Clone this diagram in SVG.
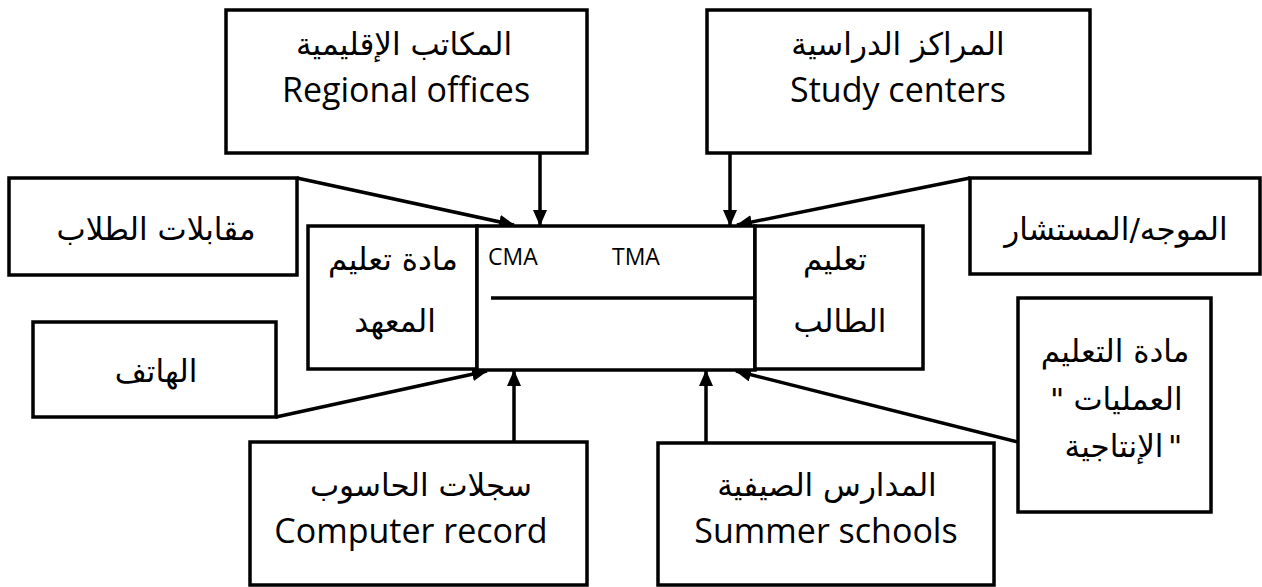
<svg xmlns="http://www.w3.org/2000/svg" width="1262" height="587" viewBox="0 0 1262 587">
<style>
.box{fill:#fff;stroke:#000;stroke-width:3.5}
.ar{font-family:"DejaVu Sans",sans-serif;font-size:31px;fill:#000;text-anchor:middle}
.q{font-family:"DejaVu Sans",sans-serif;font-size:31px;fill:#000;text-anchor:start}
.en{font-family:"Open Sans","Liberation Sans",sans-serif;font-size:34px;fill:#000;text-anchor:middle}
.sm{font-family:"Open Sans","Liberation Sans",sans-serif;font-size:23px;fill:#000}
.con{stroke:#000;stroke-width:3.5;fill:none;marker-end:url(#arr)}
</style>
<defs>
<marker id="arr" markerUnits="userSpaceOnUse" markerWidth="16" markerHeight="14" refX="15" refY="7" orient="auto">
<path d="M0,0 L16,7 L0,14 z" fill="#000"/>
</marker>
</defs>
<rect width="1262" height="587" fill="#fff"/>
<g id="connectors">
<line class="con" x1="297" y1="178" x2="514" y2="225"/>
<line class="con" x1="540" y1="153" x2="540" y2="225"/>
<line class="con" x1="730" y1="153" x2="730" y2="225"/>
<line class="con" x1="970" y1="178" x2="737" y2="225"/>
<line class="con" x1="276" y1="417" x2="487" y2="371"/>
<line class="con" x1="514" y1="442" x2="514" y2="371"/>
<line class="con" x1="706" y1="442" x2="706" y2="371"/>
<line class="con" x1="1018" y1="442" x2="736" y2="371"/>
</g>
<g id="regional">
<rect class="box" x="226" y="10" width="361" height="143"/>
<text class="ar" x="404" y="55">المكاتب الإقليمية</text>
<text class="en" x="406" y="102">Regional offices</text>
</g>
<g id="study">
<rect class="box" x="707" y="10" width="383" height="143"/>
<text class="ar" x="898" y="55">المراكز الدراسية</text>
<text class="en" x="898" y="102">Study centers</text>
</g>
<g id="interviews">
<rect class="box" x="9" y="178" width="288" height="97"/>
<text class="ar" x="156" y="240">مقابلات الطلاب</text>
</g>
<g id="institute-material">
<rect class="box" x="308" y="226" width="169" height="143"/>
<text class="ar" x="393" y="270">مادة تعليم</text>
<text class="ar" x="395" y="332">المعهد</text>
</g>
<g id="center">
<rect class="box" x="477" y="226" width="278" height="144"/>
<line x1="491" y1="298" x2="755" y2="298" stroke="#000" stroke-width="3.5"/>
<text class="sm" x="488" y="265">CMA</text>
<text class="sm" x="612" y="265">TMA</text>
</g>
<g id="student-teaching">
<rect class="box" x="755" y="226" width="168" height="143"/>
<text class="ar" x="835" y="270">تعليم</text>
<text class="ar" x="840" y="332">الطالب</text>
</g>
<g id="tutor">
<rect class="box" x="970" y="178" width="290" height="96"/>
<text class="ar" x="1116" y="240">الموجه/المستشار</text>
</g>
<g id="phone">
<rect class="box" x="33" y="322" width="243" height="95"/>
<text class="ar" x="156" y="382">الهاتف</text>
</g>
<g id="production-material">
<rect class="box" x="1018" y="298" width="193" height="214"/>
<text class="ar" x="1115" y="362">مادة التعليم</text>
<text class="q" x="1050" y="410">"</text>
<text class="ar" x="1128" y="410">العمليات</text>
<text class="ar" x="1114" y="457">الإنتاجية</text>
<text class="q" x="1168" y="457">"</text>
</g>
<g id="computer">
<rect class="box" x="250" y="442" width="337" height="143"/>
<text class="ar" x="421" y="496">سجلات الحاسوب</text>
<text class="en" x="411" y="543">Computer record</text>
</g>
<g id="summer">
<rect class="box" x="658" y="443" width="336" height="142"/>
<text class="ar" x="827" y="496">المدارس الصيفية</text>
<text class="en" x="826" y="543">Summer schools</text>
</g>
</svg>
